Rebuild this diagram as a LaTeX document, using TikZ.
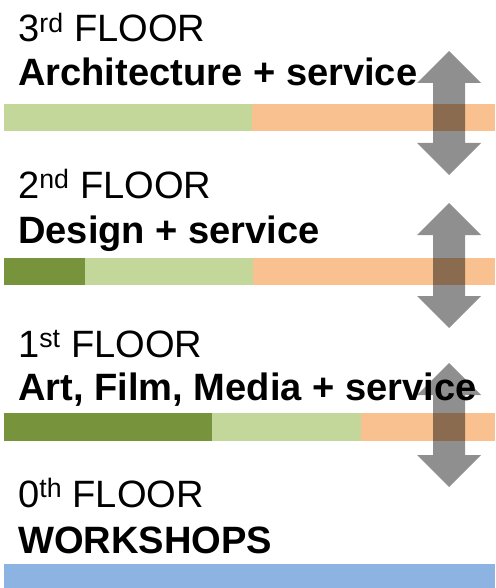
\documentclass[tikz,border=0pt]{standalone}
\usepackage{fontspec}
\usepackage{tikz}
\usepackage{xcolor}
\setmainfont{Liberation Sans}
\definecolor{darkgreen}{HTML}{77933C}
\definecolor{lightgreen}{HTML}{C4D79B}
\definecolor{serviceorange}{HTML}{F9C090}
\definecolor{workshopblue}{HTML}{8DB3E2}
\definecolor{arrowgray}{HTML}{8F8F8F}
\tikzset{
    floorlabel/.style={anchor=base west, inner sep=0pt, font=\fontsize{38.1}{40}\selectfont},
    floortitle/.style={floorlabel, font=\fontsize{38.1}{40}\selectfont\bfseries}
}

\begin{document}
\begin{tikzpicture}[x=1pt, y=-1pt]
            \useasboundingbox (0,0) rectangle (495,588);

            % bars
            \fill[lightgreen] (4,104) rectangle (252,131);
            \fill[serviceorange] (252,104) rectangle (495,131);

            \fill[darkgreen] (4,258) rectangle (85,285);
            \fill[lightgreen] (85,258) rectangle (253,285);
            \fill[serviceorange] (253,258) rectangle (495,285);

            \fill[darkgreen] (4,413) rectangle (212,441);
            \fill[lightgreen] (212,413) rectangle (361,441);
            \fill[serviceorange] (361,413) rectangle (495,441);

            \fill[workshopblue] (4,564) rectangle (495,588);

            % double arrows between floors
            \begin{scope}[blend mode=multiply]
            \foreach \top/\bot in {51/175, 203/328, 363/487}{
                \fill[arrowgray] (449,\top) -- (481,\top+32) -- (465,\top+32) -- (465,\bot-32) -- (481,\bot-32)
                    -- (449,\bot) -- (417,\bot-32) -- (433,\bot-32) -- (433,\top+32) -- (417,\top+32) -- cycle;
            }
            \end{scope}

            \node[floorlabel] (floor3) at (18,42) {3\textsuperscript{rd} FLOOR};
            \node[floortitle] (title3) at (18,86) {Architecture + service};

            \node[floorlabel] (floor2) at (18,198) {2\textsuperscript{nd} FLOOR};
            \node[floortitle] (title2) at (18,243) {Design + service};

            \node[floorlabel] (floor1) at (18,357) {1\textsuperscript{st} FLOOR};
            \node[floortitle] (title1) at (18,400) {Art, Film, Media + service};

            \node[floorlabel] (floor0) at (18,507) {0\textsuperscript{th} FLOOR};
            \node[floortitle] (title0) at (18,553) {WORKSHOPS};
        \end{tikzpicture}
\end{document}
